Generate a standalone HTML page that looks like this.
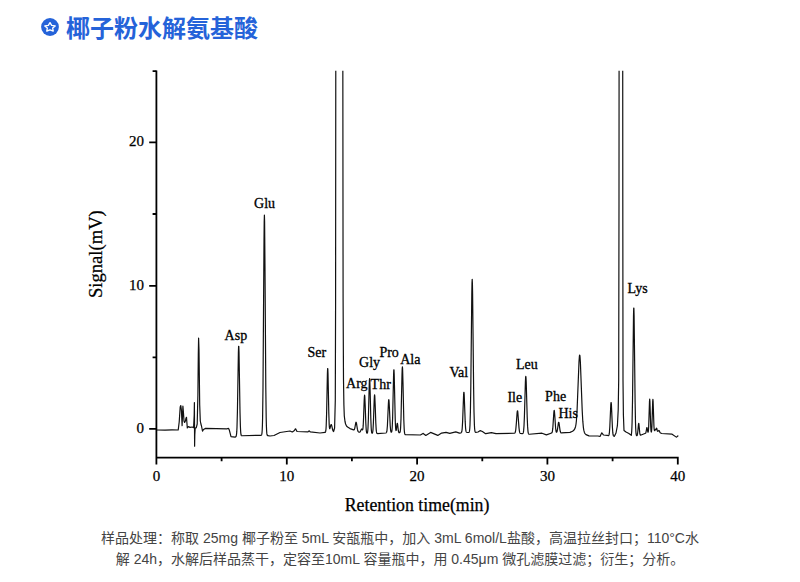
<!DOCTYPE html>
<html lang="zh-CN">
<head>
<meta charset="utf-8">
<title>椰子粉水解氨基酸</title>
<style>
html,body{margin:0;padding:0;background:#fff;}
body{width:800px;height:582px;position:relative;overflow:hidden;}
.title{position:absolute;left:66px;top:12px;height:34px;line-height:34px;font-family:"Liberation Sans","Noto Sans CJK SC",sans-serif;font-weight:700;font-size:24px;color:#2563d9;white-space:nowrap;}
.icon{position:absolute;left:41px;top:18px;width:18px;height:18px;}
.chart{position:absolute;left:0;top:0;width:800px;height:582px;}
.caption{position:absolute;left:0;top:527.5px;width:800px;text-align:center;font-family:"Liberation Sans","Noto Sans CJK SC",sans-serif;font-size:14px;line-height:21px;color:#444;}
</style>
</head>
<body>
<svg class="icon" viewBox="0 0 18 18" width="18" height="18">
<circle cx="9" cy="9" r="8.9" fill="#2563d9"/>
<path d="M9.00 4.65 L10.67 7.37 L14.19 7.90 L11.70 10.11 L12.20 13.15 L9.00 11.80 L5.80 13.15 L6.30 10.11 L3.81 7.90 L7.33 7.37 Z" fill="none" stroke="#fff" stroke-width="1.35" stroke-linejoin="round"/>
</svg>
<div class="title">椰子粉水解氨基酸</div>
<svg class="chart" viewBox="0 0 800 582" width="800" height="582">
<defs><clipPath id="plot"><rect x="150" y="70.8" width="540" height="400"/></clipPath></defs>
<g fill="none" stroke="#111" stroke-width="1.2" stroke-linejoin="round" clip-path="url(#plot)">
<path d="M157.00 430.00 L165.00 430.10 L172.00 429.90 L178.20 430.00 L179.20 422.00 L180.20 407.00 L180.80 405.50 L181.40 410.00 L182.10 425.60 L182.90 406.00 L183.40 412.00 L184.00 421.00 L184.60 422.50 L185.40 421.00 L186.00 418.00 L186.50 417.30 L187.30 428.00 L188.40 426.60 L190.00 427.40 L192.20 427.00 L193.60 427.60 L194.20 415.00 L194.40 402.50 L194.60 446.20 L194.80 435.00 L195.20 428.20 L196.30 427.60 L197.20 424.00 L197.90 395.00 L198.30 355.00 L198.60 338.00 L199.00 350.00 L199.70 405.00 L200.30 421.00 L200.90 424.00 L201.50 426.00 L202.50 431.20 L203.50 429.50 L205.60 428.40 L227.00 428.80 L228.40 428.33 L228.60 428.52 L229.40 430.28 L231.00 436.60 L235.00 437.20 L235.60 436.91 L236.00 436.50 L236.20 436.03 L236.40 435.19 L236.60 433.70 L236.80 431.16 L237.00 427.05 L237.40 412.28 L238.40 351.89 L238.60 346.42 L238.80 346.39 L239.00 351.81 L240.00 411.90 L240.40 426.56 L240.60 430.61 L240.80 433.09 L241.00 434.49 L241.20 435.23 L241.40 435.58 L241.60 435.73 L261.00 435.30 L261.40 435.12 L261.60 434.83 L261.80 434.18 L262.00 432.85 L262.20 430.29 L262.40 425.64 L262.60 417.81 L263.00 387.71 L264.00 240.97 L264.20 221.87 L264.40 215.10 L264.60 221.89 L265.00 269.16 L265.80 387.88 L266.20 418.02 L266.40 425.88 L266.60 430.55 L266.80 433.14 L267.00 434.48 L267.20 435.14 L267.40 435.46 L267.80 435.68 L270.00 436.00 L274.00 435.50 L280.00 432.50 L290.00 431.00 L292.20 431.96 L292.40 431.93 L294.40 430.57 L295.40 428.79 L295.60 428.79 L297.00 431.50 L308.00 431.80 L309.00 430.80 L310.40 431.92 L320.00 433.00 L325.00 432.46 L325.20 432.35 L325.40 432.13 L325.60 431.67 L325.80 430.73 L326.00 428.95 L326.20 425.82 L326.60 413.57 L327.40 373.67 L327.60 368.67 L327.80 368.62 L328.00 373.54 L328.80 412.93 L329.20 424.62 L329.40 427.31 L329.60 428.52 L329.80 428.72 L330.00 428.31 L330.80 425.14 L331.00 424.66 L331.20 424.50 L331.40 424.68 L331.80 425.94 L332.60 429.53 L333.00 430.71 L333.40 431.33 L333.60 431.49 L334.60 428.00 L335.30 400.00 L335.60 300.00 L335.80 40.00 L342.80 40.00 L343.10 300.00 L343.50 380.00 L343.90 405.00 L344.30 416.00 L345.00 421.50 L345.60 424.00 L346.50 426.00 L347.60 427.00 L350.00 428.60 L353.60 429.90 L354.00 429.86 L354.20 429.70 L354.40 429.38 L354.80 428.12 L355.80 422.67 L356.00 422.23 L356.20 422.31 L356.40 422.93 L357.40 429.21 L357.80 430.81 L358.20 431.62 L358.80 432.12 L359.40 432.23 L359.80 432.14 L360.20 431.79 L361.40 429.19 L361.60 429.00 L361.80 429.01 L362.40 429.78 L362.60 429.80 L362.80 429.31 L363.00 428.02 L363.20 425.66 L363.60 417.18 L364.20 400.14 L364.40 396.48 L364.60 395.19 L364.80 396.56 L365.20 405.71 L365.80 422.83 L366.20 429.56 L366.40 431.36 L366.60 432.43 L366.80 433.00 L367.00 433.24 L367.20 433.18 L367.40 432.82 L367.60 432.01 L367.80 430.50 L368.00 427.94 L368.40 418.28 L369.20 385.80 L369.40 380.42 L369.60 378.50 L369.80 380.42 L370.20 393.59 L370.80 418.28 L371.20 427.94 L371.40 430.50 L371.60 432.01 L371.80 432.82 L372.00 433.18 L372.20 433.23 L372.40 433.02 L372.60 432.47 L372.80 431.42 L373.00 429.61 L373.40 422.81 L374.20 399.94 L374.40 396.16 L374.60 394.80 L374.80 396.16 L375.20 405.43 L375.80 422.81 L376.20 429.61 L376.40 431.42 L376.60 432.49 L376.80 433.07 L377.00 433.37 L377.40 433.56 L385.80 432.99 L386.20 432.82 L386.40 432.60 L386.60 432.20 L386.80 431.48 L387.00 430.28 L387.40 425.70 L388.40 403.44 L388.60 400.54 L388.80 399.50 L389.00 400.51 L389.40 407.63 L390.20 425.52 L390.60 430.04 L390.80 431.20 L391.00 431.87 L391.20 432.19 L391.40 432.23 L391.60 431.98 L391.80 431.33 L392.00 430.03 L392.20 427.75 L392.60 418.51 L393.60 374.16 L393.80 369.86 L394.00 369.86 L394.20 374.18 L395.20 418.56 L395.40 424.05 L395.60 427.67 L395.80 429.72 L396.00 430.54 L396.20 430.36 L396.40 429.37 L397.00 424.30 L397.20 423.32 L397.40 423.33 L397.60 424.33 L398.20 429.67 L398.40 430.99 L398.60 431.86 L398.80 432.36 L399.00 432.61 L399.20 432.71 L399.60 432.68 L399.80 432.56 L400.00 432.23 L400.20 431.52 L400.40 430.17 L400.60 427.85 L401.00 418.83 L402.00 374.53 L402.20 368.79 L402.40 366.80 L402.60 368.93 L403.00 383.44 L403.80 419.82 L404.20 429.12 L404.40 431.57 L404.60 433.06 L404.80 433.92 L405.00 434.39 L405.20 434.65 L420.40 435.00 L423.00 433.46 L423.20 433.47 L425.80 435.40 L430.60 432.40 L437.80 435.40 L441.60 433.08 L446.00 432.40 L449.80 433.40 L455.80 431.90 L459.40 433.07 L461.00 432.85 L461.40 432.54 L461.60 432.17 L461.80 431.50 L462.00 430.36 L462.20 428.52 L462.60 421.88 L463.60 394.78 L463.80 392.32 L464.00 392.31 L464.20 394.73 L465.20 421.65 L465.60 428.21 L465.80 430.02 L466.00 431.13 L466.20 431.76 L466.40 432.10 L466.80 432.38 L468.60 432.52 L469.00 432.32 L469.20 432.01 L469.40 431.39 L469.60 430.24 L469.80 428.22 L470.00 424.87 L470.40 411.85 L470.80 386.88 L471.80 293.72 L472.00 283.04 L472.20 279.30 L472.40 283.04 L472.60 293.72 L473.60 386.88 L474.00 411.85 L474.40 424.87 L474.60 428.22 L474.80 430.24 L475.00 431.39 L475.20 431.97 L475.40 432.24 L475.80 432.39 L478.00 432.00 L480.00 430.67 L480.20 430.64 L482.40 431.50 L485.60 433.63 L485.80 433.67 L491.40 432.60 L496.00 433.70 L514.40 433.17 L514.80 433.00 L515.00 432.79 L515.20 432.41 L515.40 431.80 L515.80 429.50 L516.40 422.59 L517.00 413.92 L517.20 411.91 L517.40 410.83 L517.60 410.85 L517.80 411.95 L519.00 427.84 L519.40 431.08 L519.80 432.68 L520.00 433.08 L520.40 433.46 L522.40 433.66 L522.80 433.53 L523.00 433.31 L523.20 432.90 L523.40 432.16 L523.60 430.92 L524.00 426.05 L524.40 416.68 L525.40 381.69 L525.60 377.69 L525.80 376.30 L526.00 377.73 L526.20 381.77 L527.20 416.95 L527.60 426.40 L528.00 431.34 L528.20 432.62 L528.40 433.40 L528.60 433.84 L528.80 434.06 L529.40 434.24 L542.00 433.20 L546.40 434.86 L551.00 433.19 L551.60 433.04 L551.80 432.89 L552.00 432.61 L552.20 432.12 L552.40 431.29 L552.80 428.17 L553.80 412.99 L554.00 411.01 L554.20 410.30 L554.40 410.98 L554.80 415.81 L555.60 427.96 L556.00 431.00 L556.20 431.74 L556.40 432.12 L556.60 432.21 L556.80 432.06 L557.00 431.65 L557.40 429.97 L558.40 422.91 L558.60 422.28 L558.80 422.29 L559.00 422.94 L560.00 430.09 L560.40 431.85 L560.60 432.34 L560.80 432.64 L561.20 432.92 L570.00 432.36 L572.60 431.20 L574.00 430.02 L574.60 429.21 L575.20 427.86 L575.60 426.44 L576.00 424.24 L576.40 420.72 L577.00 412.06 L579.00 361.86 L579.40 356.22 L579.60 355.09 L579.80 355.18 L580.00 356.48 L580.40 362.47 L582.20 410.38 L582.80 421.16 L583.40 427.61 L583.80 430.17 L584.40 432.44 L584.80 433.36 L586.00 434.60 L589.00 435.88 L598.00 436.00 L600.00 436.50 L601.80 432.80 L603.40 434.87 L603.60 435.01 L607.20 435.30 L608.20 435.64 L608.60 435.59 L608.80 435.38 L609.00 434.92 L609.20 434.00 L609.40 432.49 L609.80 427.01 L610.80 404.58 L611.00 402.56 L611.20 402.57 L611.40 404.61 L612.40 427.16 L612.80 432.67 L613.00 434.21 L613.20 435.15 L613.40 435.70 L613.60 436.00 L614.00 436.23 L614.40 436.29 L616.00 433.00 L617.40 425.70 L618.20 410.00 L618.70 380.00 L619.00 200.00 L619.10 40.00 L622.70 40.00 L622.80 200.00 L623.00 380.00 L623.40 415.00 L624.00 430.50 L626.00 432.00 L628.90 433.50 L631.30 435.40 L631.70 431.35 L631.90 427.82 L632.10 422.06 L632.50 401.23 L633.50 315.89 L633.70 308.19 L633.90 308.21 L634.10 315.96 L635.10 401.56 L635.50 422.49 L635.70 428.29 L635.90 431.88 L636.10 433.94 L636.30 434.99 L636.50 435.50 L636.70 435.69 L636.90 435.68 L637.10 435.48 L637.30 435.01 L637.50 434.13 L637.90 430.67 L638.50 423.99 L638.70 423.30 L638.90 423.94 L639.70 432.41 L639.90 433.79 L640.10 434.62 L640.30 435.05 L640.50 435.20 L645.50 433.31 L645.70 433.07 L645.90 432.58 L646.30 430.52 L646.70 427.97 L646.90 427.50 L647.10 427.91 L647.70 431.44 L647.90 432.10 L648.10 432.19 L648.30 431.56 L648.50 429.82 L648.70 426.48 L649.50 401.18 L649.70 399.00 L649.90 401.18 L650.70 426.48 L650.90 429.81 L651.10 431.51 L651.30 432.03 L651.50 431.55 L651.70 429.80 L651.90 426.46 L652.70 401.52 L652.90 399.30 L653.10 401.29 L653.90 425.33 L654.10 428.46 L654.30 430.07 L654.50 430.67 L654.70 430.63 L655.30 429.32 L655.50 429.30 L655.70 429.53 L655.90 429.66 L656.10 429.35 L656.50 428.14 L656.70 428.21 L657.30 430.69 L657.50 431.15 L657.70 431.32 L657.90 431.33 L658.30 431.08 L658.70 430.59 L658.90 430.47 L659.10 430.59 L659.90 432.30 L660.30 432.80 L661.50 433.51 L672.10 434.20 L676.30 437.13 L676.50 437.11 L678.10 435.69 L678.30 435.60"/>
</g>
<g stroke="#000" stroke-width="1.8" fill="none" stroke-linecap="butt">
<path d="M156.4 70.6 V464.5 M155.5 457.6 H678.7 M677.8 457.6 V464.5"/>
<path d="M149.2 428.8 H156.4 M149.2 285.8 H156.4 M149.2 142.3 H156.4 M152.6 357.3 H156.4 M152.6 214 H156.4 M152.6 71.2 H156.4"/>
<path d="M286.8 457.6 V464.5 M417.1 457.6 V464.5 M547.4 457.6 V464.5 M221.6 457.6 V461.2 M351.9 457.6 V461.2 M482.3 457.6 V461.2 M612.6 457.6 V461.2"/>
</g>
<g font-family="'Liberation Serif',serif" font-size="15" fill="#000" stroke="#000" stroke-width="0.25">
<text x="144" y="146.3" text-anchor="end">20</text>
<text x="144" y="289.8" text-anchor="end">10</text>
<text x="144" y="432.8" text-anchor="end">0</text>
<text x="156.4" y="481.3" text-anchor="middle">0</text>
<text x="286.8" y="481.3" text-anchor="middle">10</text>
<text x="417.1" y="481.3" text-anchor="middle">20</text>
<text x="547.4" y="481.3" text-anchor="middle">30</text>
<text x="677.8" y="481.3" text-anchor="middle">40</text>
</g>
<g font-family="'Liberation Serif',serif" font-size="18" fill="#000" stroke="#000" stroke-width="0.25">
<text x="417.1" y="510.5" text-anchor="middle" font-size="17.8">Retention time(min)</text>
<text transform="translate(102 254.1) rotate(-90)" text-anchor="middle" font-size="18.6">Signal(mV)</text>
</g>
<g font-family="'Liberation Serif',serif" font-size="14" fill="#000" stroke="#000" stroke-width="0.3">
<text x="224.6" y="339.5">Asp</text>
<text x="254.1" y="208.4">Glu</text>
<text x="307.4" y="356.6">Ser</text>
<text x="346.1" y="387.8">Arg</text>
<text x="359.1" y="367.2">Gly</text>
<text x="370.6" y="389.3">Thr</text>
<text x="379.4" y="356.9">Pro</text>
<text x="400.2" y="363.5">Ala</text>
<text x="449.4" y="376.5">Val</text>
<text x="507.4" y="402.2">Ile</text>
<text x="515.9" y="368.7">Leu</text>
<text x="545.1" y="400.5">Phe</text>
<text x="558.4" y="417.5">His</text>
<text x="627.6" y="292.8">Lys</text>
</g>
</svg>
<div class="caption">样品处理：称取 25mg 椰子粉至 5mL 安瓿瓶中，加入 3mL 6mol/L盐酸，高温拉丝封口；110°C水<br>解 24h，水解后样品蒸干，定容至10mL 容量瓶中，用 0.45μm 微孔滤膜过滤；衍生；分析。</div>
</body>
</html>
